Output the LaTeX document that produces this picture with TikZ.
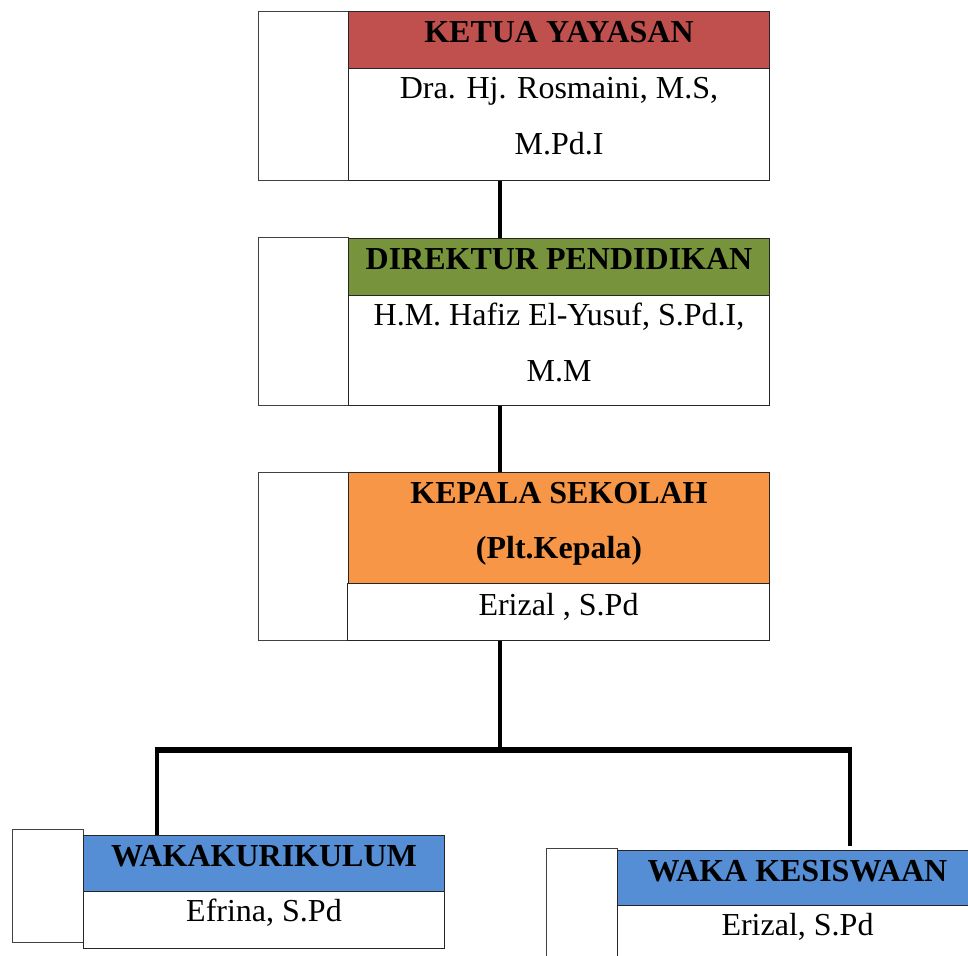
\documentclass[tikz,border=0pt]{standalone}
\usepackage{fontspec}
\setmainfont{Liberation Serif}

\definecolor{ketuared}{HTML}{C0504D}
\definecolor{direkturgreen}{HTML}{77933C}
\definecolor{kepalaorange}{HTML}{F79646}
\definecolor{wakablue}{HTML}{558ED5}

\begin{document}
\begin{tikzpicture}[x=1pt, y=-1pt,
    side/.style={draw=black!75, line width=0.9pt, anchor=north west, inner sep=0pt, minimum width=90pt},
    head/.style={draw=black!85, line width=1pt, anchor=north west, inner sep=0pt,
      align=center, text height=31pt, font=\fontsize{32}{55}\selectfont\bfseries},
    body/.style={draw=black!85, line width=1pt, anchor=north west, inner sep=0pt,
      fill=white, align=center, text height=30pt, font=\fontsize{32}{56}\selectfont},
    link/.style={line width=4pt}]
  \clip (0,0) rectangle (968,955);

  % ketua yayasan
  \node[side, minimum height=169pt] (ketuaSide) at (258,11) {};
  \node[head, fill=ketuared, minimum width=421pt, minimum height=57pt, text depth=26pt] (ketuaHead) at (348,11) {KETUA YAYASAN};
  \node[body, minimum width=421pt, minimum height=112pt, text height=86pt, text depth=26pt] (ketuaBody) at (348,68) {Dra. Hj. Rosmaini, M.S,\\ M.Pd.I};

  % direktur pendidikan
  \node[side, minimum height=168pt] (direkturSide) at (258,237) {};
  \node[head, fill=direkturgreen, minimum width=421pt, minimum height=57pt, text depth=26pt] (direkturHead) at (348,238) {DIREKTUR PENDIDIKAN};
  \node[body, minimum width=421pt, minimum height=110pt, text height=86pt, text depth=24pt] (direkturBody) at (348,295) {H.M. Hafiz El-Yusuf, S.Pd.I,\\ M.M};

  % kepala sekolah
  \node[side, minimum height=168pt] (kepalaSide) at (258,472) {};
  \node[head, fill=kepalaorange, minimum width=421pt, minimum height=111pt, text height=86pt, text depth=25pt] (kepalaHead) at (348,472) {KEPALA SEKOLAH\\ (Plt.Kepala)};
  \node[body, minimum width=422pt, minimum height=57pt, text height=32pt, text depth=25pt] (kepalaBody) at (347,583) {Erizal , S.Pd};

  % waka
  \node[side, minimum width=71pt, minimum height=113pt] (kurikulumSide) at (12,829) {};
  \node[head, fill=wakablue, minimum width=361pt, minimum height=56pt, text depth=25pt] (kurikulumHead) at (83,835) {WAKAKURIKULUM};
  \node[body, minimum width=361pt, minimum height=57pt, text depth=27pt] (kurikulumBody) at (83,891) {Efrina, S.Pd};

  \node[side, minimum width=71pt, minimum height=130pt] (kesiswaanSide) at (546,848) {};
  \node[head, fill=wakablue, minimum width=360pt, minimum height=55pt, text depth=24pt] (kesiswaanHead) at (617,850) {WAKA KESISWAAN};
  \node[body, minimum width=360pt, minimum height=60pt, text depth=30pt] (kesiswaanBody) at (617,905) {Erizal, S.Pd};

  % garis
  \coordinate (spine) at (500,0);
  \coordinate (barLeft) at (157,750);
  \coordinate (barMid) at (500,750);
  \coordinate (barRight) at (850,750);
  \draw[link] (spine |- ketuaBody.south) -- (spine |- direkturHead.north);
  \draw[link] (spine |- direkturBody.south) -- (spine |- kepalaHead.north);
  \draw[link] (spine |- kepalaBody.south) -- (barMid);
  \draw[link, line width=6pt] ([xshift=-2pt]barLeft) -- ([xshift=2pt]barRight);
  \draw[link] (barLeft) -- (barLeft |- kurikulumHead.north);
  \draw[link] (barRight) -- ([yshift=4pt]barRight |- kesiswaanHead.north);
\end{tikzpicture}
\end{document}
